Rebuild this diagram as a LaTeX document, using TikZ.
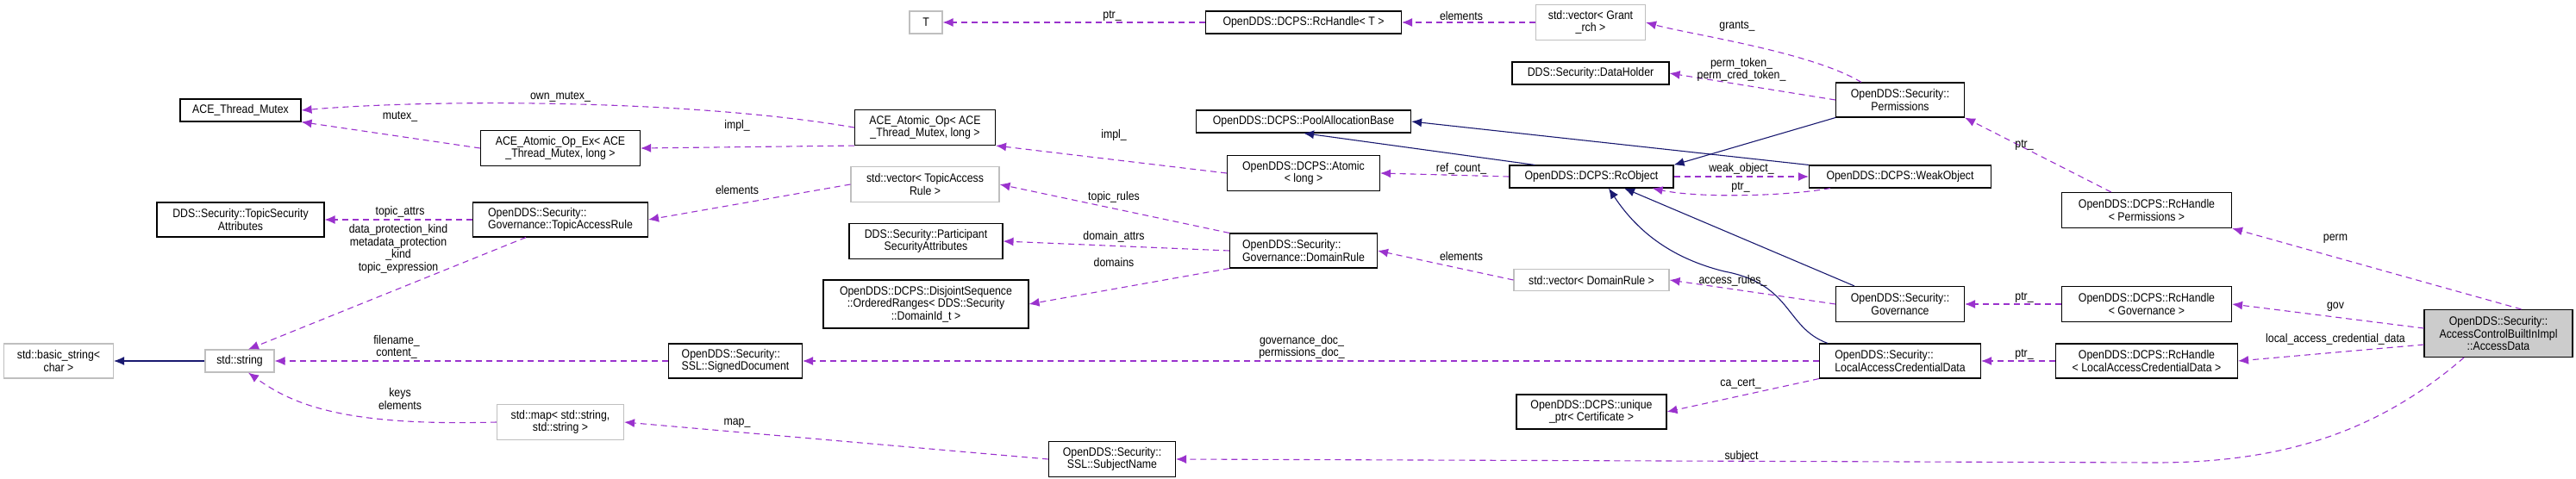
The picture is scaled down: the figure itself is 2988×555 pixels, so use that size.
\documentclass[tikz,border=0pt]{standalone}
\usepackage{fontspec}
\setmainfont{Liberation Sans}[FakeStretch=0.88]
\usetikzlibrary{arrows.meta}
\definecolor{mem}{HTML}{9A32CD}
\definecolor{inh}{HTML}{191970}
\definecolor{ugr}{HTML}{BFBFBF}
\begin{document}
\begin{tikzpicture}[x=1pt,y=-1pt,
  every node/.style={font=\fontsize{14}{14.5}\selectfont},
  box/.style={draw=black,line width=1.1pt,fill=white,inner sep=1pt,align=center},
  lbox/.style={box,align=left},
  gbox/.style={box,draw=ugr},
  mm/.style={draw=mem,line width=1.1pt,dash pattern=on 7pt off 5pt,-{Latex[length=12pt,width=10pt]}},
  ih/.style={draw=inh,line width=1.1pt,-{Latex[length=12pt,width=10pt]}},
  lb/.style={inner sep=0pt,align=center}]
\useasboundingbox (0,0) rectangle (2988,555);
% nodes
\node[gbox,minimum width=127pt,minimum height=40pt] (bs) at (68,419) {std::basic\_string\textless\\char \textgreater};
\node[gbox,minimum width=80pt,minimum height=26pt] (str) at (278,419) {std::string};
\node[box,minimum width=140pt,minimum height=26pt] (atm) at (279,128) {ACE\_Thread\_Mutex};
\node[box,minimum width=185pt,minimum height=41pt] (aox) at (650,172) {ACE\_Atomic\_Op\_Ex\textless{} ACE\\\_Thread\_Mutex, long \textgreater};
\node[box,minimum width=194pt,minimum height=40pt] (tsa) at (279,255) {DDS::Security::TopicSecurity\\Attributes};
\node[lbox,minimum width=203pt,minimum height=40pt] (tar) at (650,255) {OpenDDS::Security::\\Governance::TopicAccessRule};
\node[lbox,minimum width=155pt,minimum height=40pt] (sd) at (853,419) {OpenDDS::Security::\\SSL::SignedDocument};
\node[gbox,minimum width=147pt,minimum height=41pt] (map) at (650,490) {std::map\textless{} std::string,\\std::string \textgreater};
\node[gbox,minimum width=38pt,minimum height=26pt] (T) at (1074,26) {T};
\node[box,minimum width=227pt,minimum height=26pt] (rht) at (1512,26) {OpenDDS::DCPS::RcHandle\textless{} T \textgreater};
\node[gbox,minimum width=127pt,minimum height=41pt] (vg) at (1845,26) {std::vector\textless{} Grant\\\_rch \textgreater};
\node[box,minimum width=182pt,minimum height=26pt] (dh) at (1845,85) {DDS::Security::DataHolder};
\node[box,minimum width=249pt,minimum height=26pt] (pab) at (1512,141) {OpenDDS::DCPS::PoolAllocationBase};
\node[box,minimum width=163pt,minimum height=41pt] (ao) at (1073,148) {ACE\_Atomic\_Op\textless{} ACE\\\_Thread\_Mutex, long \textgreater};
\node[box,minimum width=177pt,minimum height=41pt] (atl) at (1512,201) {OpenDDS::DCPS::Atomic\\\textless{} long \textgreater};
\node[gbox,minimum width=172pt,minimum height=41pt] (vtar) at (1073,214) {std::vector\textless{} TopicAccess\\Rule \textgreater};
\node[box,minimum width=178pt,minimum height=41pt] (psa) at (1074,280) {DDS::Security::Participant\\SecurityAttributes};
\node[box,minimum width=238pt,minimum height=56pt] (ds) at (1074,353) {OpenDDS::DCPS::DisjointSequence\\::OrderedRanges\textless{} DDS::Security\\::DomainId\_t \textgreater};
\node[lbox,minimum width=171pt,minimum height=40pt] (dr) at (1512,291) {OpenDDS::Security::\\Governance::DomainRule};
\node[box,minimum width=190pt,minimum height=26pt] (rco) at (1846,205) {OpenDDS::DCPS::RcObject};
\node[gbox,minimum width=180pt,minimum height=25pt] (vdr) at (1846,325) {std::vector\textless{} DomainRule \textgreater};
\node[box,minimum width=174pt,minimum height=40pt] (up) at (1846,478) {OpenDDS::DCPS::unique\\\_ptr\textless{} Certificate \textgreater};
\node[box,minimum width=147pt,minimum height=41pt] (sn) at (1290,533) {OpenDDS::Security::\\SSL::SubjectName};
\node[box,minimum width=149pt,minimum height=40pt] (perm) at (2204,116) {OpenDDS::Security::\\Permissions};
\node[box,minimum width=211pt,minimum height=26pt] (wo) at (2204,205) {OpenDDS::DCPS::WeakObject};
\node[box,minimum width=197pt,minimum height=41pt] (rhp) at (2490,244) {OpenDDS::DCPS::RcHandle\\\textless{} Permissions \textgreater};
\node[box,minimum width=149pt,minimum height=41pt] (gov) at (2204,353) {OpenDDS::Security::\\Governance};
\node[box,minimum width=197pt,minimum height=41pt] (rhg) at (2490,353) {OpenDDS::DCPS::RcHandle\\\textless{} Governance \textgreater};
\node[lbox,minimum width=187pt,minimum height=40pt] (lacd) at (2204,419) {OpenDDS::Security::\\LocalAccessCredentialData};
\node[box,minimum width=211pt,minimum height=40pt] (rhl) at (2490,419) {OpenDDS::DCPS::RcHandle\\\textless{} LocalAccessCredentialData \textgreater};
\node[box,fill=ugr!80,minimum width=172pt,minimum height=55pt] (ad) at (2898,387) {OpenDDS::Security::\\AccessControlBuiltInImpl\\::AccessData};
% inheritance
\draw[ih] (str) -- (bs);
\draw[ih] (rco.north west) ++(30,0) coordinate (c1) (c1) -- (pab.south);
\draw[ih] (wo.north west) -- (pab.east);
\draw[ih] (perm.south west) -- (rco.north east);
\draw[ih] (gov.north west) ++(22,0) coordinate (c2) (c2) -- ([xshift=38pt]rco.south);
\draw[ih] (lacd.north west) ++(10,0) coordinate (c3) (c3) .. controls (2070,380) and (2080,330) .. (2000,315) .. controls (1940,300) and (1900,270) .. ([xshift=20pt]rco.south);
% members
\draw[mm] (rht) -- (T);
\draw[mm] (vg) -- (rht);
\draw[mm] ([xshift=-45pt]perm.north) .. controls (2100,60) and (1960,40) .. (vg.east);
\draw[mm] (perm.west) -- (dh.east);
\draw[mm] (ao.west) .. controls (800,115) and (500,115) .. (atm.east);
\draw[mm] (aox.west) -- (atm.south east);
\draw[mm] (ao.south west) -- (aox.east);
\draw[mm] (atl.west) -- (ao.south east);
\draw[mm] (rco.west) -- (atl.east);
\draw[mm] (rco.east) -- (wo.west);
\draw[mm] ([xshift=25pt]wo.south west) .. controls (2070,228) and (1970,230) .. ([xshift=-25pt]rco.south east);
\draw[mm] (tar.west) -- (tsa.east);
\draw[mm] ([xshift=-40pt]tar.south) -- ([xshift=10pt]str.north);
\draw[mm] (vtar.west) -- (tar.east);
\draw[mm] (dr.north west) -- (vtar.east);
\draw[mm] (dr.west) -- (psa.east);
\draw[mm] (dr.south west) -- (ds.east);
\draw[mm] (vdr.west) -- (dr.east);
\draw[mm] (gov.west) -- (vdr.east);
\draw[mm] (sd) -- (str);
\draw[mm] (lacd) -- (sd);
\draw[mm] (lacd.south west) -- (up.east);
\draw[mm] (map.west) .. controls (400,495) and (340,470) .. ([xshift=10pt]str.south);
\draw[mm] (sn.west) -- (map.east);
\draw[mm] (rhp) -- (perm.south east);
\draw[mm] (rhg) -- (gov);
\draw[mm] (rhl) -- (lacd);
\draw[mm] ([xshift=-60pt]ad.north east) coordinate (c4) (c4) -- (rhp.south east);
\draw[mm] (ad.west) ++(0,-6) coordinate (c5) (c5) -- (rhg.east);
\draw[mm] (ad.west) ++(0,13) coordinate (c6) (c6) -- (rhl.east);
\draw[mm] ([xshift=-40pt]ad.south) .. controls (2760,500) and (2650,537) .. (2500,537) -- (sn.east);
% labels
\node[lb] (l1) at (1290,18) {ptr\_};
\node[lb] (l2) at (1695,18) {elements};
\node[lb] (l3) at (2015,30) {grants\_};
\node[lb] (l4) at (2020,81) {perm\_token\_\\perm\_cred\_token\_};
\node[lb] (l5) at (650,112) {own\_mutex\_};
\node[lb] (l6) at (464,135) {mutex\_};
\node[lb] (l7) at (855,146) {impl\_};
\node[lb] (l8) at (1292,157) {impl\_};
\node[lb] (l9) at (1695,196) {ref\_count\_};
\node[lb] (l10) at (2020,196) {weak\_object\_};
\node[lb] (l11) at (2019,217) {ptr\_};
\node[lb] (l12) at (855,220) {elements};
\node[lb] (l13) at (464,246) {topic\_attrs};
\node[lb] (l14) at (462,289) {data\_protection\_kind\\metadata\_protection\\\_kind\\topic\_expression};
\node[lb] (l15) at (1292,229) {topic\_rules};
\node[lb] (l16) at (1292,275) {domain\_attrs};
\node[lb] (l17) at (1292,304) {domains};
\node[lb] (l18) at (1695,297) {elements};
\node[lb] (l19) at (2010,326) {access\_rules\_};
\node[lb] (l20) at (460,403) {filename\_\\content\_};
\node[lb] (l21) at (1510,403) {governance\_doc\_\\permissions\_doc\_};
\node[lb] (l22) at (2019,445) {ca\_cert\_};
\node[lb] (l23) at (464,463) {keys\\elements};
\node[lb] (l24) at (855,491) {map\_};
\node[lb] (l25) at (2348,168) {ptr\_};
\node[lb] (l26) at (2709,277) {perm};
\node[lb] (l27) at (2348,345) {ptr\_};
\node[lb] (l28) at (2709,356) {gov};
\node[lb] (l29) at (2348,411) {ptr\_};
\node[lb] (l30) at (2709,394) {local\_access\_credential\_data};
\node[lb] (l31) at (2020,530) {subject};
\end{tikzpicture}
\end{document}
